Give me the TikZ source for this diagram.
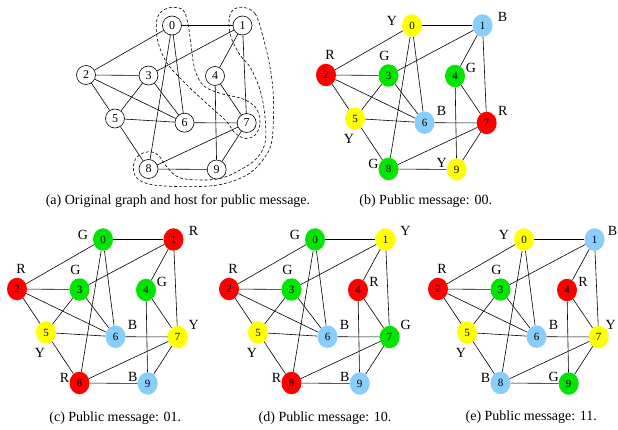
\documentclass[tikz,border=0pt]{standalone}
\usepackage{fontspec}
\setmainfont{Liberation Serif}
\usetikzlibrary{shapes.geometric}

\definecolor{vY}{HTML}{FFFF00}
\definecolor{vR}{HTML}{FF0000}
\definecolor{vG}{HTML}{00E600}
\definecolor{vB}{HTML}{87CEFA}

\tikzset{
  edge/.style={line width=0.6pt},
  plain/.style={circle, draw, fill=white, line width=0.6pt, minimum size=19pt,
    inner sep=0pt, font=\fontsize{12}{12}\selectfont},
  colv/.style={ellipse, fill=v#1, minimum width=20pt, minimum height=22.5pt,
    inner sep=0pt, font=\fontsize{11}{11}\selectfont},
  tag/.style={inner sep=0pt, font=\fontsize{14}{14}\selectfont},
  % per-vertex tweaks of the colour tags (empty by default)
  tag0/.style={}, tag1/.style={}, tag2/.style={}, tag3/.style={}, tag4/.style={},
  tag5/.style={}, tag6/.style={}, tag7/.style={}, tag8/.style={}, tag9/.style={},
  caption/.style={anchor=base, inner sep=0pt, font=\fontsize{14}{16}\selectfont},
  hostloop/.style={dash pattern=on 3pt off 2pt, line width=0.6pt},
}

% vertex positions and colour-tag positions of one drawing of the graph
\newcommand\setpositions{%
  \foreach \i/\x/\y/\dx/\dy in {0/172/25.5/-20/-5, 1/242.5/25.5/20/-9,
      2/86/75/4/-20, 3/148.5/75.5/-4/-20, 4/215/76/16/-8, 5/115/118.5/-6/20,
      6/184.5/122.7/17/-12, 7/246.7/123/16/-12, 8/148.5/169/-15/-5,
      9/216.7/169.5/-15/-7}{
    \coordinate (P\i) at (\x,\y);
    \coordinate (L\i) at (\x+\dx,\y+\dy);
  }}

% the twenty edges
\newcommand\alledges[1]{%
  \foreach \u/\v in {0/1,0/2,0/6,0/8,1/3,1/4,1/7,2/3,2/5,2/6,3/5,3/6,5/6,5/8,
      6/7,4/7,4/9,7/8,7/9,8/9}{
    \draw[edge] (#1\u) -- (#1\v);
  }}

% a coloured drawing: #1 prefix, #2 list vertex/colour
\newcommand\colpanel[2]{%
  \setpositions
  \foreach \i/\c in {#2}{
    \node[colv=\c] (#1\i) at (P\i) {\i};
    \node[tag, tag\i] (#1t\i) at (L\i) {\c};
  }
  \alledges{#1}}

\begin{document}
\begin{tikzpicture}[x=1pt, y=-1pt]
\useasboundingbox (0,0) rectangle (618,430);

% (a) original graph with the two host regions
\begin{scope}
  \setpositions
  \draw[hostloop] plot[smooth cycle, tension=0.6] coordinates {
    (171,7.5) (183,10) (188,24) (191,45) (195,70) (204,86) (221,93.5)
    (243,99) (256,108) (260,122) (256,134) (246,138.5) (235,133) (226,121)
    (204,101) (184,82) (167,63) (158,42) (156.5,22) (161,12)};
  \draw[hostloop] plot[smooth cycle, tension=0.6] coordinates {
    (243,7.3) (255,13.5) (262,33) (270,67) (273.5,100) (272,140) (265,157)
    (250,173) (227,183) (200,186.5) (158,185.5) (139,180) (133.5,170)
    (135.5,159) (143,153) (152,152) (159,156) (167,167) (179,177.5) (202,180)
    (222,178) (240,170) (256,159) (265,143) (265,117) (260,90) (250,67)
    (240,55) (231,37) (229,20) (233,10)};
  \foreach \i in {0,...,9}{\node[plain] (a\i) at (P\i) {\i};}
  \alledges{a}
\end{scope}

% (b) public message 00
\begin{scope}[shift={(240,0)}]
  \colpanel{b}{0/Y,1/B,2/R,3/G,4/G,5/Y,6/B,7/R,8/G,9/Y}
\end{scope}

% (c) public message 01
\begin{scope}[shift={(-69,214)}]
  \colpanel{c}{0/G,1/R,2/R,3/G,4/G,5/Y,6/B,7/Y,8/R,9/B}
\end{scope}

% (d) public message 10
\begin{scope}[shift={(143,214)}]
  \colpanel{d}{0/G,1/Y,2/R,3/G,4/R,5/Y,6/B,7/G,8/R,9/B}
\end{scope}

% (e) public message 11, tags on the right edge pulled in a little
\begin{scope}[shift={(352,214)}, tag1/.style={xshift=-2pt}, tag7/.style={xshift=-4pt}]
  \colpanel{e}{0/Y,1/B,2/R,3/G,4/R,5/Y,6/B,7/Y,8/B,9/G}
\end{scope}

\node[caption] (capa) at (178,205) {(a) Original graph and host for public message.};
\node[caption] (capb) at (425.7,205) {(b) Public message: 00.};
\node[caption] (capc) at (115.3,421.5) {(c) Public message: 01.};
\node[caption] (capd) at (325,421.5) {(d) Public message: 10.};
\node[caption] (cape) at (531.3,420.5) {(e) Public message: 11.};
\end{tikzpicture}
\end{document}
